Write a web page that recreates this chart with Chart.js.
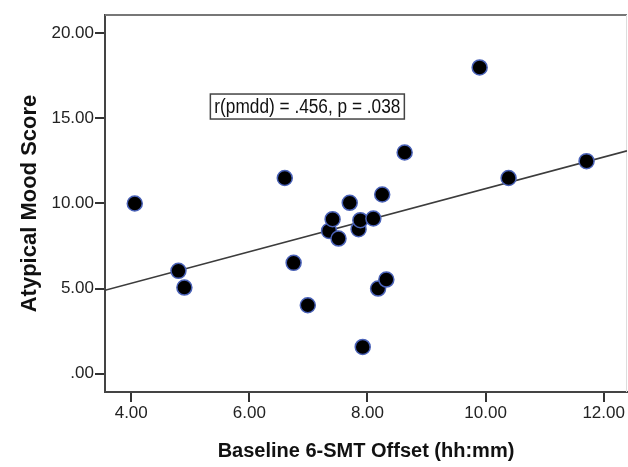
<!DOCTYPE html>
<html>
<head>
<meta charset="utf-8">
<script src="https://cdn.jsdelivr.net/npm/chart.js@4.4.0/dist/chart.umd.min.js"></script>
<style>
  html, body { margin: 0; padding: 0; background: #fff; }
</style>
</head>
<body>
<canvas id="chart" width="628" height="467"></canvas>
<script>
// Baseline 6-SMT offset (hh:mm as decimal hours) vs atypical mood score
const offsetHours = [4.06, 4.80, 4.90, 6.60, 6.75, 6.99, 7.35, 7.41, 7.51, 7.70, 7.85,
                     7.88, 7.92, 8.10, 8.18, 8.25, 8.32, 8.63, 9.90, 10.39, 11.71];
const moodScores  = [10.0, 6.04, 5.06, 11.5, 6.51, 4.02, 8.39, 9.08, 7.94, 10.04, 8.49,
                     9.02, 1.57, 9.12, 5.0, 10.53, 5.53, 13.0, 18.0, 11.5, 12.49];

// fit line ends, read at the plot edges
const fitX = [3.556, 12.395];
const fitY = [4.9, 13.1];

const xTicks = [4, 6, 8, 10, 12];
const yTicks = [0, 5, 10, 15, 20];

const noteText = 'r(pmdd) = .456, p = .038';
const notePos = { x: 5.34, y: 15.7 };

const FONT = '"Liberation Sans", Arial, sans-serif';

const fmt = v => (v === 0 ? '.00' : v.toFixed(2));

const framePlugin = {
  id: 'frame',
  beforeDatasetsDraw(chart) {
    const { ctx, chartArea: a } = chart;
    ctx.save();
    ctx.strokeStyle = '#777';
    ctx.lineWidth = 2;
    ctx.beginPath();
    ctx.moveTo(a.left, a.top);
    ctx.lineTo(a.right, a.top);
    ctx.stroke();
    ctx.strokeStyle = '#ddd';
    ctx.lineWidth = 1;
    ctx.beginPath();
    ctx.moveTo(a.right - 0.5, a.top);
    ctx.lineTo(a.right - 0.5, a.bottom);
    ctx.stroke();
    ctx.restore();
  },
  afterDraw(chart) {
    const { ctx, scales } = chart;
    const left = scales.x.getPixelForValue(notePos.x);
    const cy = scales.y.getPixelForValue(notePos.y);
    const w = 194, h = 25, textW = 186;
    ctx.save();
    ctx.fillStyle = '#fff';
    ctx.fillRect(left, cy - h / 2, w, h);
    ctx.strokeStyle = '#444';
    ctx.lineWidth = 1.5;
    ctx.strokeRect(left, cy - h / 2, w, h);
    ctx.font = '20px ' + FONT;
    ctx.fillStyle = '#111';
    ctx.textBaseline = 'middle';
    const k = textW / ctx.measureText(noteText).width;
    ctx.translate(left + (w - textW) / 2, cy + 1);
    ctx.scale(k, 1);
    ctx.fillText(noteText, 0, 0);
    ctx.restore();
  }
};

new Chart(document.getElementById('chart'), {
  type: 'scatter',
  data: {
    datasets: [
      {
        data: offsetHours.map((x, i) => ({ x, y: moodScores[i] })),
        backgroundColor: '#000',
        borderColor: '#4a62b8',
        borderWidth: 1.5,
        pointRadius: 7.5,
        order: 1
      },
      {
        type: 'line',
        data: fitX.map((x, i) => ({ x, y: fitY[i] })),
        borderColor: '#3c3c3c',
        borderWidth: 1.7,
        pointRadius: 0,
        fill: false,
        order: 2
      }
    ]
  },
  options: {
    responsive: false,
    animation: false,
    layout: { autoPadding: false, padding: { top: 15, right: 1, left: 0, bottom: 0 } },
    plugins: { legend: { display: false }, tooltip: { enabled: false } },
    scales: {
      x: {
        type: 'linear',
        min: 3.556,
        max: 12.395,
        afterBuildTicks: s => { s.ticks = xTicks.map(v => ({ value: v })); },
        afterFit: s => { s.height = 75; s.paddingLeft = 0; s.paddingRight = 0; },
        border: { color: '#444', width: 2 },
        grid: { drawOnChartArea: false, drawTicks: true, tickLength: 10, color: '#333', lineWidth: 2 },
        ticks: { color: '#222', font: { family: FONT, size: 17 }, padding: 1, autoSkip: false, maxRotation: 0, callback: fmt },
        title: {
          display: true,
          text: 'Baseline 6-SMT Offset (hh:mm)',
          color: '#111',
          font: { family: FONT, size: 20, weight: 'bold' },
          padding: { top: 0, bottom: 4 }
        }
      },
      y: {
        type: 'linear',
        min: -1.08,
        max: 21.08,
        afterBuildTicks: s => { s.ticks = yTicks.map(v => ({ value: v })); },
        afterFit: s => { s.width = 105; s.paddingTop = 0; s.paddingBottom = 0; },
        border: { color: '#444', width: 2 },
        grid: { drawOnChartArea: false, drawTicks: true, tickLength: 10, color: '#333', lineWidth: 2 },
        ticks: { color: '#222', font: { family: FONT, size: 17 }, padding: 1, autoSkip: false, callback: fmt },
        title: {
          display: true,
          text: 'Atypical Mood Score',
          color: '#111',
          font: { family: FONT, size: 22, weight: 'bold' },
          padding: { top: 17, bottom: 0 }
        }
      }
    }
  },
  plugins: [framePlugin]
});
</script>
</body>
</html>
